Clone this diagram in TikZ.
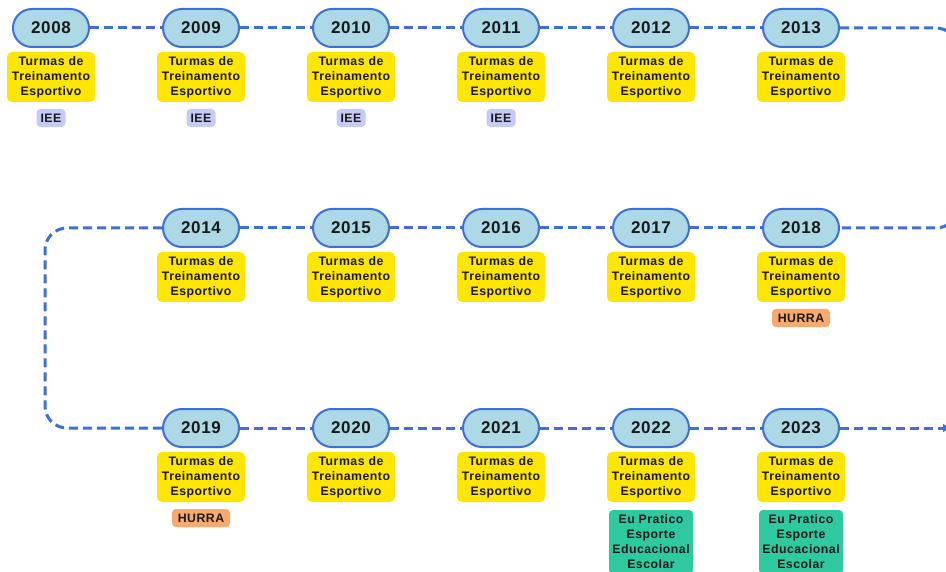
\documentclass[tikz,border=0pt]{standalone}
\usepackage{fontspec}
\setmainfont{Liberation Sans}
\newfontfamily\tagfont[LetterSpace=4]{Liberation Sans}
\usetikzlibrary{
    arrows.meta
  , positioning
}

\definecolor{lineblue}{HTML}{3D6FD6}
\definecolor{yearfill}{HTML}{ADD9E6}
\definecolor{hlyellow}{HTML}{FFE600}
\definecolor{tagiee}{HTML}{C5CBF6}
\definecolor{taghurra}{HTML}{F8A96B}
\definecolor{taggreen}{HTML}{2FC9A0}

\tikzset{
  year/.style={draw=lineblue, line width=2pt, fill=yearfill, rounded corners=19pt,
    minimum width=76pt, minimum height=38pt, inner sep=0pt, text=black!90,
    font=\tagfont\bfseries\fontsize{17}{20}\selectfont},
  turma/.style={fill=hlyellow, rounded corners=5pt, minimum width=88pt,
    minimum height=50pt, inner sep=0pt, align=center, text=black!90,
    font=\tagfont\bfseries\fontsize{12.3}{15}\selectfont},
  tag/.style={rounded corners=4pt, minimum height=18pt, inner sep=0pt, text=black!90,
    font=\tagfont\bfseries\fontsize{12.3}{15}\selectfont},
  timeline/.style={draw=lineblue, line width=3pt, dash pattern=on 9pt off 5pt}
}

\begin{document}
\begin{tikzpicture}[x=1pt, y=-1pt]
  \useasboundingbox (0,0) rectangle (946,572);
  % Dashed timeline (drawn first, behind the years)
  \coordinate (rtop) at (958,28);
  \coordinate (rbot) at (958,228);
  \coordinate (ltop) at (45,228);
  \coordinate (lbot) at (45,428);
  \coordinate (tail) at (951,428);
  % Row 1
  \node[year] (y2008) at (51,28) {2008};
  \node[year] (y2009) at (201,28) {2009};
  \node[year] (y2010) at (351,28) {2010};
  \node[year] (y2011) at (501,28) {2011};
  \node[year] (y2012) at (651,28) {2012};
  \node[year] (y2013) at (801,28) {2013};
  % Row 2
  \node[year] (y2014) at (201,228) {2014};
  \node[year] (y2015) at (351,228) {2015};
  \node[year] (y2016) at (501,228) {2016};
  \node[year] (y2017) at (651,228) {2017};
  \node[year] (y2018) at (801,228) {2018};
  % Row 3
  \node[year] (y2019) at (201,428) {2019};
  \node[year] (y2020) at (351,428) {2020};
  \node[year] (y2021) at (501,428) {2021};
  \node[year] (y2022) at (651,428) {2022};
  \node[year] (y2023) at (801,428) {2023};
  % Connectors
  \draw[timeline] (y2008) -- (y2009);
  \draw[timeline] (y2009) -- (y2010);
  \draw[timeline] (y2010) -- (y2011);
  \draw[timeline] (y2011) -- (y2012);
  \draw[timeline] (y2012) -- (y2013);
  \draw[timeline, rounded corners=22pt] (y2013.east) -- (rtop) -- (rbot) -- (y2018.east);
  \draw[timeline] (y2017) -- (y2018);
  \draw[timeline] (y2016) -- (y2017);
  \draw[timeline] (y2015) -- (y2016);
  \draw[timeline] (y2014) -- (y2015);
  \draw[timeline, rounded corners=22pt] (y2014.west) -- (ltop) -- (lbot) -- (y2019.west);
  \draw[timeline] (y2019) -- (y2020);
  \draw[timeline] (y2020) -- (y2021);
  \draw[timeline] (y2021) -- (y2022);
  \draw[timeline] (y2022) -- (y2023);
  \draw[timeline, -{Latex[length=8pt, width=9pt]}] (y2023.east) -- (tail);
  % Turmas de Treinamento Esportivo
  \node[turma] (t2008) at (51,77) {Turmas de\\Treinamento\\Esportivo};
  \node[turma] (t2009) at (201,77) {Turmas de\\Treinamento\\Esportivo};
  \node[turma] (t2010) at (351,77) {Turmas de\\Treinamento\\Esportivo};
  \node[turma] (t2011) at (501,77) {Turmas de\\Treinamento\\Esportivo};
  \node[turma] (t2012) at (651,77) {Turmas de\\Treinamento\\Esportivo};
  \node[turma] (t2013) at (801,77) {Turmas de\\Treinamento\\Esportivo};
  \node[turma] (t2014) at (201,277) {Turmas de\\Treinamento\\Esportivo};
  \node[turma] (t2015) at (351,277) {Turmas de\\Treinamento\\Esportivo};
  \node[turma] (t2016) at (501,277) {Turmas de\\Treinamento\\Esportivo};
  \node[turma] (t2017) at (651,277) {Turmas de\\Treinamento\\Esportivo};
  \node[turma] (t2018) at (801,277) {Turmas de\\Treinamento\\Esportivo};
  \node[turma] (t2019) at (201,477) {Turmas de\\Treinamento\\Esportivo};
  \node[turma] (t2020) at (351,477) {Turmas de\\Treinamento\\Esportivo};
  \node[turma] (t2021) at (501,477) {Turmas de\\Treinamento\\Esportivo};
  \node[turma] (t2022) at (651,477) {Turmas de\\Treinamento\\Esportivo};
  \node[turma] (t2023) at (801,477) {Turmas de\\Treinamento\\Esportivo};
  % Tags
  \node[tag, fill=tagiee, minimum width=29pt] (iee2008) at (51,118) {IEE};
  \node[tag, fill=tagiee, minimum width=29pt] (iee2009) at (201,118) {IEE};
  \node[tag, fill=tagiee, minimum width=29pt] (iee2010) at (351,118) {IEE};
  \node[tag, fill=tagiee, minimum width=29pt] (iee2011) at (501,118) {IEE};
  \node[tag, fill=taghurra, minimum width=58pt] (hurra2018) at (801,318) {HURRA};
  \node[tag, fill=taghurra, minimum width=58pt] (hurra2019) at (201,518) {HURRA};
  \node[tag, fill=taggreen, minimum width=84pt, minimum height=64pt, align=center]
    (epe2022) at (651,542) {Eu Pratico\\Esporte\\Educacional\\Escolar};
  \node[tag, fill=taggreen, minimum width=84pt, minimum height=64pt, align=center]
    (epe2023) at (801,542) {Eu Pratico\\Esporte\\Educacional\\Escolar};
\end{tikzpicture}
\end{document}
